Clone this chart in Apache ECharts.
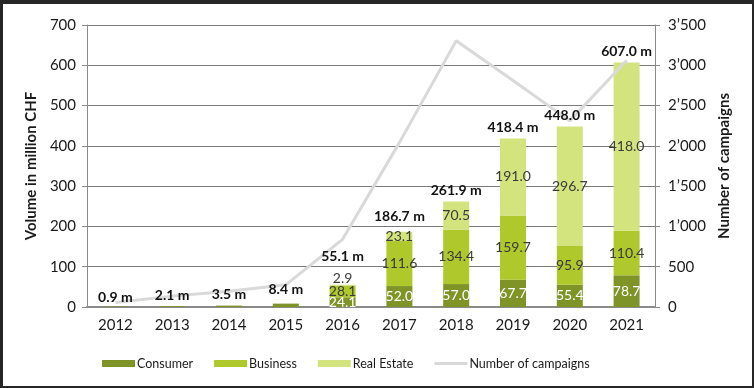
<!DOCTYPE html>
<html>
<head>
<meta charset="utf-8">
<script src="https://cdn.jsdelivr.net/npm/echarts@6/dist/echarts.min.js"></script>
<style>
  html, body { margin: 0; padding: 0; background: #262626; }
  #panel { position: absolute; left: 3px; top: 4px; width: 749px; height: 382px; background: #ffffff; }
  #chart { position: absolute; left: 0; top: 0; width: 754px; height: 388px; }
</style>
</head>
<body>
<div id="panel"></div>
<div id="chart"></div>
<script>
// ---- data ----
const years = ['2012', '2013', '2014', '2015', '2016', '2017', '2018', '2019', '2020', '2021'];
const consumer = [0.9, 2.1, 3.5, 8.4, 24.1, 52.0, 57.0, 67.7, 55.4, 78.7];
const business = [0, 0, 0, 0, 28.1, 111.6, 134.4, 159.7, 95.9, 110.4];
const realEstate = [0, 0, 0, 0, 2.9, 23.1, 70.5, 191.0, 296.7, 418.0];
const totals = [0.9, 2.1, 3.5, 8.4, 55.1, 186.7, 261.9, 418.4, 448.0, 607.0];
const campaigns = [55, 135, 195, 275, 840, 2040, 3305, 2810, 2310, 3060];
const leftTicks = [0, 100, 200, 300, 400, 500, 600, 700];
const rightTicks = [0, 500, 1000, 1500, 2000, 2500, 3000, 3500];

// ---- style config ----
const FONT = 'Lato, "Open Sans", sans-serif';
const C_CONS = '#7f9427';
const C_BUS = '#afc82c';
const C_RE = '#d3e47f';
const C_LINE = '#d9d9d9';
const totalGap = { '2012': 2, '2013': 4, '2014': 4, '2015': 7, '2016': 21, '2017': 8 };

const segLabel = (color) => ({
  show: true,
  position: 'inside',
  color: color,
  fontFamily: FONT,
  fontSize: 14,
  formatter: (p) => (p.value >= 20 ? p.value.toFixed(1) : '')
});

const reData = realEstate.map((v, i) => {
  if (v > 0 && v < 20) {
    return { value: v, label: { show: true, position: 'top', distance: -1, formatter: v.toFixed(1) } };
  }
  return v;
});

const totalData = totals.map((t, i) => ({
  value: 0,
  label: { distance: totalGap[years[i]] !== undefined ? totalGap[years[i]] : 4 }
}));

const fmtThousands = (v) => {
  const s = String(v);
  return s.length > 3 ? s.slice(0, s.length - 3) + '\u2019' + s.slice(s.length - 3) : s;
};

const chart = echarts.init(document.getElementById('chart'), null, { renderer: 'canvas' });
chart.setOption({
  backgroundColor: 'transparent',
  animation: false,
  textStyle: { fontFamily: FONT },
  grid: { left: 87, right: 99, top: 25, bottom: 81, containLabel: false },
  legend: {
    left: 97,
    top: 352,
    itemWidth: 33,
    itemHeight: 7,
    itemGap: 21,
    icon: 'rect',
    textStyle: { fontFamily: FONT, fontSize: 12.5, color: '#1a1a1a', padding: [0, 0, 0, -3] },
    data: [
      { name: 'Consumer', icon: 'rect' },
      { name: 'Business', icon: 'rect' },
      { name: 'Real Estate', icon: 'rect' },
      { name: 'Number of campaigns', icon: 'path://M0,0 L33,0 L33,3 L0,3 Z', itemStyle: { color: C_LINE } }
    ]
  },
  xAxis: {
    type: 'category',
    data: years,
    axisLine: { lineStyle: { color: '#8a8a8a', width: 2 } },
    axisTick: { show: false },
    axisLabel: { color: '#1a1a1a', fontSize: 15, fontFamily: FONT, margin: 11 }
  },
  yAxis: [
    {
      type: 'value',
      min: 0, max: 700, interval: 100,
      name: 'Volume in million CHF',
      nameLocation: 'middle',
      nameGap: 42,
      nameTextStyle: { fontSize: 15, fontWeight: 'bold', color: '#1a1a1a', fontFamily: FONT },
      axisLine: { show: true, lineStyle: { color: '#8a8a8a', width: 1 } },
      axisTick: { show: true, length: 5, lineStyle: { color: '#8a8a8a' } },
      axisLabel: { color: '#1a1a1a', fontSize: 15, fontFamily: FONT, margin: 11,
        formatter: (v) => (leftTicks.indexOf(v) >= 0 ? String(v) : '') },
      splitLine: { show: true, lineStyle: { color: '#7a7a7a', width: 1 } }
    },
    {
      type: 'value',
      min: 0, max: 3500, interval: 500,
      name: 'Number of campaigns',
      nameLocation: 'middle',
      nameGap: 56,
      nameRotate: 90,
      nameTextStyle: { fontSize: 15, fontWeight: 'bold', color: '#1a1a1a', fontFamily: FONT },
      axisLine: { show: true, lineStyle: { color: '#8a8a8a', width: 1 } },
      axisTick: { show: true, length: 5, lineStyle: { color: '#8a8a8a' } },
      axisLabel: { color: '#1a1a1a', fontSize: 15, fontFamily: FONT, margin: 13,
        formatter: (v) => (rightTicks.indexOf(v) >= 0 ? fmtThousands(v) : '') },
      splitLine: { show: false }
    }
  ],
  series: [
    {
      name: 'Consumer', type: 'bar', stack: 'vol', barWidth: 26,
      itemStyle: { color: C_CONS },
      label: segLabel('#ffffff'),
      data: consumer
    },
    {
      name: 'Business', type: 'bar', stack: 'vol', barWidth: 26,
      itemStyle: { color: C_BUS },
      label: segLabel('#3a3a3a'),
      data: business
    },
    {
      name: 'Real Estate', type: 'bar', stack: 'vol', barWidth: 26,
      itemStyle: { color: C_RE },
      label: segLabel('#3a3a3a'),
      data: reData
    },
    {
      name: 'Total', type: 'bar', stack: 'vol', barWidth: 26,
      itemStyle: { color: 'transparent' },
      label: {
        show: true, position: 'top', color: '#111', fontWeight: 'bold', fontSize: 14, fontFamily: FONT,
        formatter: (p) => totals[p.dataIndex].toFixed(1) + ' m'
      },
      data: totalData,
      z: 5
    },
    {
      name: 'Number of campaigns', type: 'line', yAxisIndex: 1,
      symbol: 'none',
      lineStyle: { color: C_LINE, width: 3 },
      itemStyle: { color: C_LINE },
      data: campaigns,
      z: 3
    }
  ]
});
</script>
</body>
</html>
